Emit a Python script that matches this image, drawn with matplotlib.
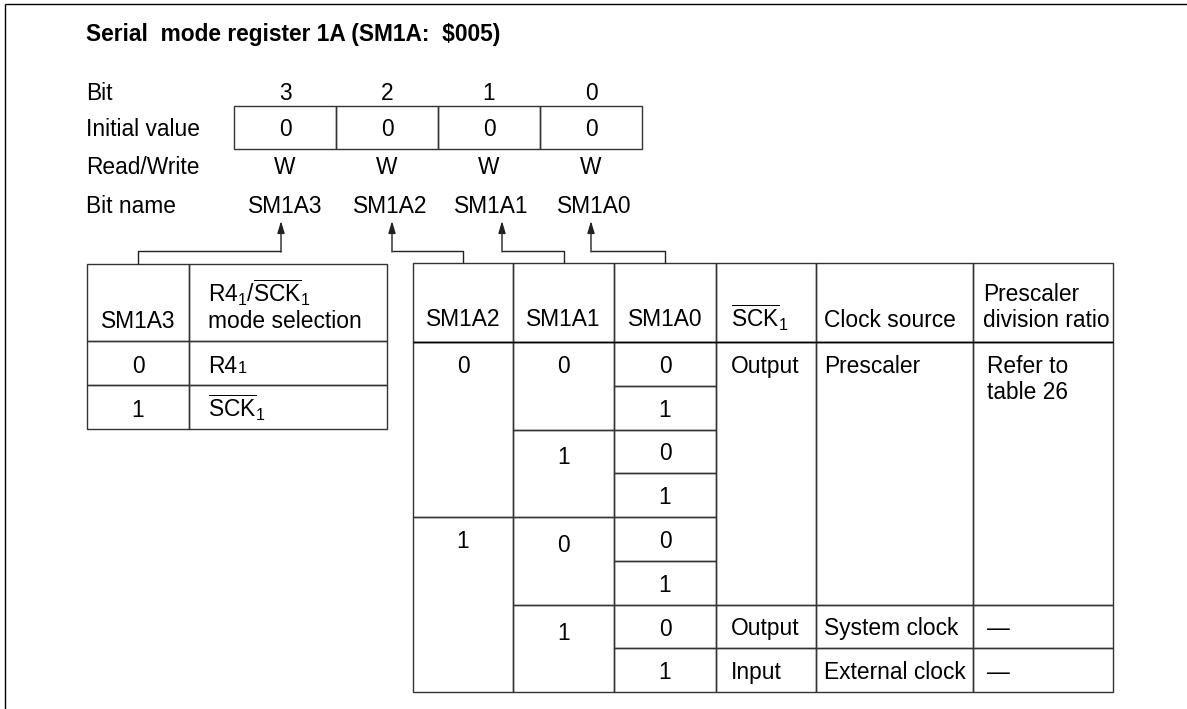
import matplotlib.pyplot as plt
from matplotlib.patches import Rectangle

plt.rcParams['font.family'] = ['Liberation Sans', 'DejaVu Sans']
plt.rcParams['mathtext.fontset'] = 'custom'
plt.rcParams['mathtext.rm'] = 'Liberation Sans'
plt.rcParams['mathtext.it'] = 'Liberation Sans:italic'
plt.rcParams['mathtext.bf'] = 'Liberation Sans:bold'

SCK1 = r'$\overline{\mathrm{SCK}}_1$'

title = 'Serial  mode register 1A (SM1A:  $005)'
row_labels = ['Bit', 'Initial value', 'Read/Write', 'Bit name']
bit_numbers = ['3', '2', '1', '0']
initial_values = ['0', '0', '0', '0']
read_write = ['W', 'W', 'W', 'W']
bit_names = ['SM1A3', 'SM1A2', 'SM1A1', 'SM1A0']

# SM1A3 table
mode_header = ['SM1A3', 'R4$_1$/' + SCK1 + '\nmode selection']
mode_bits = ['0', '1']
mode_names = ['R4', SCK1]   # R4 gets a small "1" after it

# SM1A2..SM1A0 table, cells given as (text, first row, end row)
clk_header = ['SM1A2', 'SM1A1', 'SM1A0', SCK1, 'Clock source', 'Prescaler\ndivision ratio']
sm1a2 = [('0', 0, 4), ('1', 4, 8)]
sm1a1 = [('0', 0, 2), ('1', 2, 4), ('0', 4, 6), ('1', 6, 8)]
sm1a0 = [('0', 0, 1), ('1', 1, 2), ('0', 2, 3), ('1', 3, 4),
         ('0', 4, 5), ('1', 5, 6), ('0', 6, 7), ('1', 7, 8)]
sck_dir = [('Output', 0, 6), ('Output', 6, 7), ('Input', 7, 8)]
clock_source = [('Prescaler', 0, 6), ('System clock', 6, 7), ('External clock', 7, 8)]
division = [('Refer to\ntable 26', 0, 6), ('\u2014', 6, 7), ('\u2014', 7, 8)]
clk_columns = [sm1a2, sm1a1, sm1a0, sck_dir, clock_source, division]

# layout (pixels)
W, H = 1187, 709
FS = 16.4
LC = '#333333'
STEP = 26

fig = plt.figure(figsize=(W / 100, H / 100), dpi=100)
ax = fig.add_axes([0, 0, 1, 1])
ax.set_xlim(0, W)
ax.set_ylim(H, 0)
ax.axis('off')


def line(xs, ys, color=LC, lw=1.0):
    ax.plot(xs, ys, color=color, lw=lw, solid_capstyle='butt')


def cell(x0, x1, y0, y1):
    ax.add_patch(Rectangle((x0, y0), x1 - x0, y1 - y0, fill=False, ec=LC, lw=1.0))


def label(x, yc, s, ha='center', weight='normal', last_line=False):
    parts = s.split('\n')
    if last_line:
        yc = yc - STEP * (len(parts) - 1)
    for i, p in enumerate(parts):
        ax.text(x, yc + i * STEP + 8, p, ha=ha, va='baseline', fontsize=FS,
                fontweight=weight, color='black')


# frame
line([5, 5], [4, H], color='black')
line([5, W], [4, 4], color='black')

label(86, 33, title, ha='left', weight='bold')

label_y = [92, 128, 166, 205]
for s, y in zip(row_labels, label_y):
    label(86, y, s, ha='left')

reg_x = [234, 336, 438, 540, 642]
reg_c = [(a + b) / 2 for a, b in zip(reg_x[:-1], reg_x[1:])]
for i in range(4):
    cell(reg_x[i], reg_x[i + 1], 106, 149)
    label(reg_c[i], label_y[0], bit_numbers[i])
    label(reg_c[i], label_y[1], initial_values[i])
    label(reg_c[i], label_y[2], read_write[i])
name_c = [285, 390, 491, 594]
for s, x in zip(bit_names, name_c):
    label(x, label_y[3], s)

# left table
lx = [87, 189, 387]
ly = [264, 341, 385, 429]
for r in range(3):
    for c in range(2):
        cell(lx[c], lx[c + 1], ly[r], ly[r + 1])
label((lx[0] + lx[1]) / 2, 320, mode_header[0])
label(lx[1] + 19, 320, mode_header[1], ha='left', last_line=True)
for r in range(2):
    yc = (ly[r + 1] + ly[r + 2]) / 2 + 2
    label((lx[0] + lx[1]) / 2, yc, mode_bits[r])
    t = ax.text(lx[1] + 19, yc + 8, mode_names[r], ha='left', va='baseline', fontsize=FS)
    if r == 0:
        bb = t.get_window_extent(renderer=fig.canvas.get_renderer())
        x_end = ax.transData.inverted().transform((bb.x1, bb.y0))[0]
        ax.text(x_end + 1, yc + 8, '1', ha='left', va='baseline', fontsize=FS * 0.72)

# right table
rx = [413, 513, 614, 716, 816, 973, 1113]
top, head_bot, row_h = 263, 342, 43.75
pads = [None, None, None, 15, 8, 14]
head_pads = [None, None, None, 15, 8, 10]
for c, (groups, hdr) in enumerate(zip(clk_columns, clk_header)):
    cell(rx[c], rx[c + 1], top, head_bot)
    if pads[c] is None:
        label((rx[c] + rx[c + 1]) / 2, 318, hdr)
    else:
        label(rx[c] + head_pads[c], 319, hdr, ha='left', last_line=True)
    for txt, r0, r1 in groups:
        y0 = head_bot + r0 * row_h
        y1 = head_bot + r1 * row_h
        cell(rx[c], rx[c + 1], y0, y1)
        yc = y0 + 23 + (4 if c == 1 and r0 > 0 else 0)
        if pads[c] is None:
            label((rx[c] + rx[c + 1]) / 2, yc, txt)
        else:
            label(rx[c] + pads[c], yc, txt, ha='left')
line([rx[0], rx[-1]], [head_bot, head_bot], color='black')

# connectors from bit names to tables
arrow_x = [281, 392, 502, 591]
target_x = [(lx[0] + lx[1]) / 2] + [(rx[i] + rx[i + 1]) / 2 for i in range(3)]
target_y = [ly[0], top, top, top]
for ax_x, tx, ty in zip(arrow_x, target_x, target_y):
    line([ax_x, ax_x, tx, tx], [251, 251, 251, ty], color='#222222')
    ax.annotate('', xy=(ax_x, 221), xytext=(ax_x, 252),
                arrowprops=dict(arrowstyle='-|>,head_length=0.6,head_width=0.18',
                                color='#222222', lw=1.0, mutation_scale=12,
                                shrinkA=0, shrinkB=0))

fig.savefig('out.png', dpi=100)
